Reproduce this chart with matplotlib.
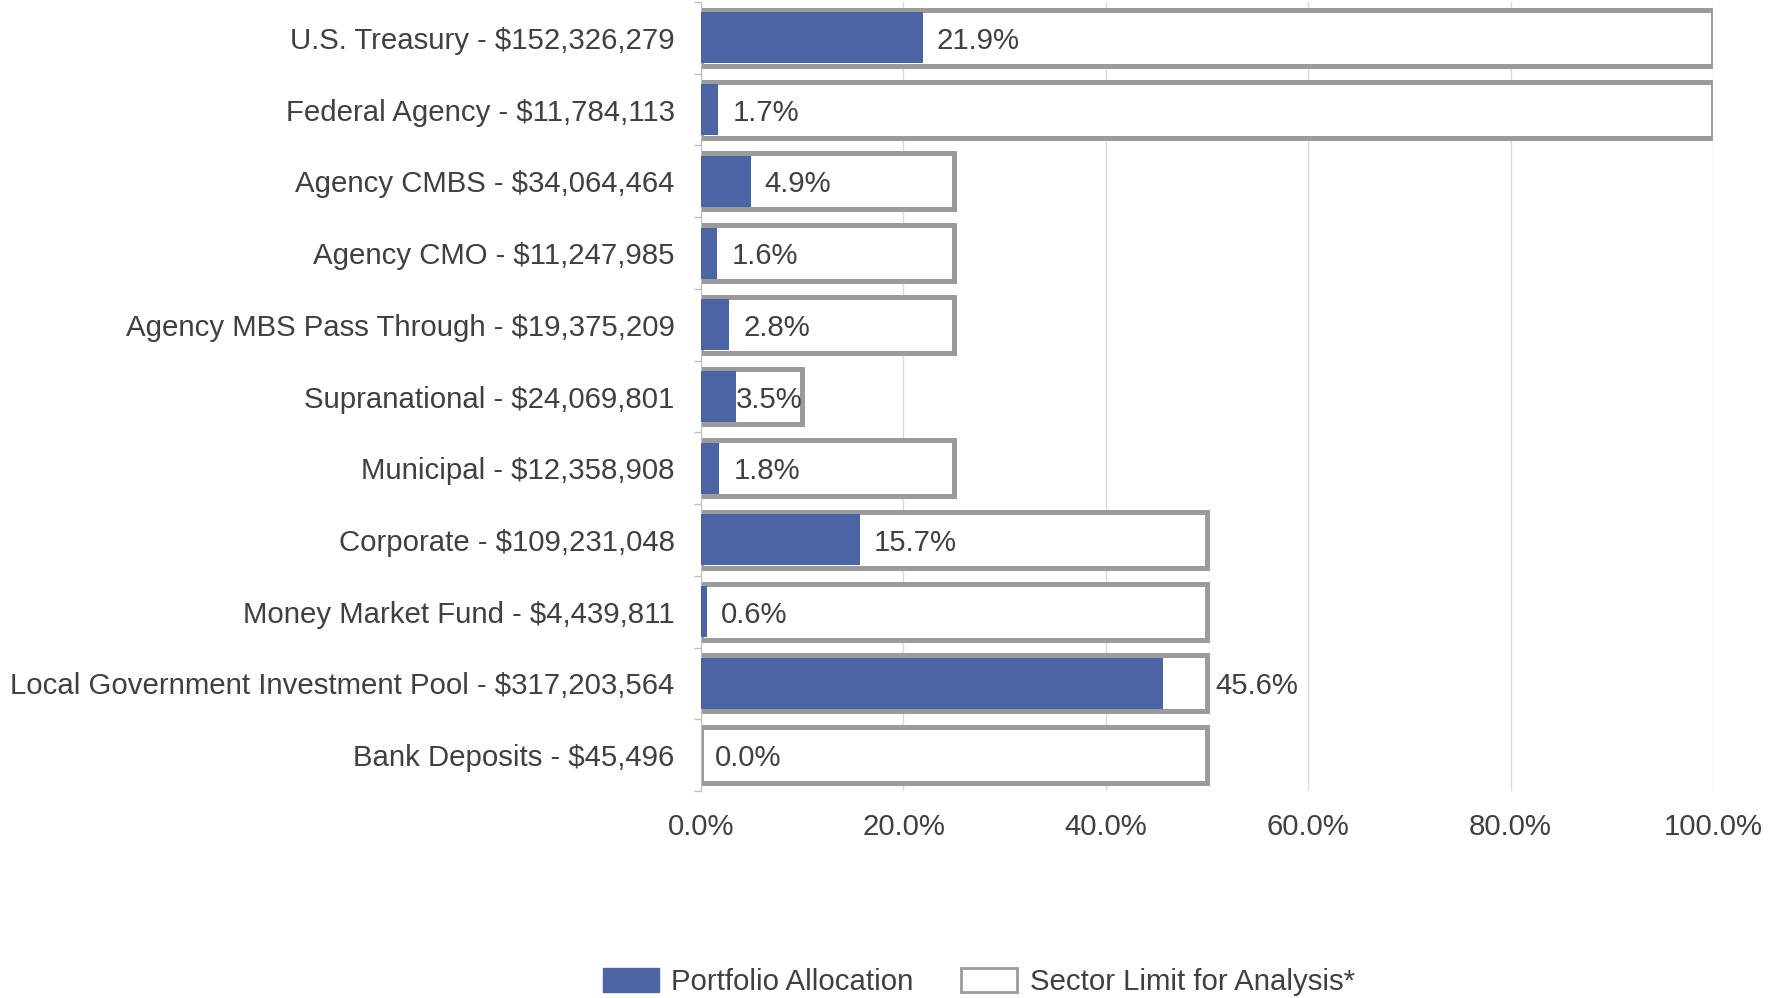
import numpy as np
import matplotlib.pyplot as plt
from matplotlib.patches import Patch

plt.rcParams['font.family'] = ['Liberation Sans', 'DejaVu Sans']

sectors = ['U.S. Treasury', 'Federal Agency', 'Agency CMBS', 'Agency CMO',
           'Agency MBS Pass Through', 'Supranational', 'Municipal', 'Corporate',
           'Money Market Fund', 'Local Government Investment Pool', 'Bank Deposits']
amounts = ['$152,326,279', '$11,784,113', '$34,064,464', '$11,247,985',
           '$19,375,209', '$24,069,801', '$12,358,908', '$109,231,048',
           '$4,439,811', '$317,203,564', '$45,496']
allocation = [21.9, 1.7, 4.9, 1.6, 2.8, 3.5, 1.8, 15.7, 0.6, 45.6, 0.0]
sector_limit = [100, 100, 25, 25, 25, 10, 25, 50, 50, 50, 50]

BLUE = '#4A64A4'
EDGE = '#9B9B9B'
TXT = '#404040'
FS = 21.2

fig = plt.figure(figsize=(17.73, 9.98), dpi=100)
ax = fig.add_axes([0.3954, 0.2074, 0.5708, 0.7906])

y = np.arange(len(sectors))
ax.barh(y, sector_limit, height=0.78, color='white', edgecolor=EDGE,
        linewidth=3.6, zorder=2)
ax.barh(y, allocation, height=0.71, color=BLUE, linewidth=0, zorder=3)

# label right of the blue bar; if the box is nearly full put it outside,
# if the box is too short for the text, right-align it against the box edge
label_w = 5.7
for yi, v, lim in zip(y, allocation, sector_limit):
    if lim - v < 6:
        xpos, ha = lim + 0.8, 'left'
    elif v + 1.4 + label_w > lim:
        xpos, ha = lim, 'right'
    else:
        xpos, ha = v + 1.4, 'left'
    ax.text(xpos, yi, f'{v:.1f}%', va='center_baseline', ha=ha, fontsize=FS,
            color=TXT, zorder=4)

ax.set_xlim(0, 100)
ax.set_ylim(len(sectors) - 0.5, -0.5)
ax.set_xticks(np.arange(0, 101, 20))
ax.set_xticklabels([f'{t:.1f}%' for t in np.arange(0, 101, 20)])
ax.set_yticks(y)
ax.set_yticklabels([f'{s} - {a}' for s, a in zip(sectors, amounts)])
ax.set_yticks(np.arange(-0.5, len(sectors)), minor=True)
ax.tick_params(axis='y', which='major', length=0, pad=19, labelsize=FS,
               labelcolor=TXT)
ax.tick_params(axis='y', which='minor', length=5, color='#BFBFBF', width=1)
ax.tick_params(axis='x', length=0, pad=16, labelsize=FS, labelcolor=TXT)

ax.grid(axis='x', color='#DADADA', linewidth=1, zorder=0)
ax.set_axisbelow(True)
for side in ['top', 'right', 'bottom']:
    ax.spines[side].set_visible(False)
ax.spines['left'].set_color('#BFBFBF')

handles = [Patch(facecolor=BLUE, edgecolor=BLUE, label='Portfolio Allocation'),
           Patch(facecolor='white', edgecolor=EDGE, linewidth=2,
                 label='Sector Limit for Analysis*')]
leg = fig.legend(handles=handles, loc='center', bbox_to_anchor=(0.552, 0.016),
                 ncol=2, frameon=False, fontsize=FS, handlelength=1.92,
                 handleheight=0.85, columnspacing=1.6, handletextpad=0.42)
for t in leg.get_texts():
    t.set_color(TXT)

fig.savefig('out.png', dpi=100)
